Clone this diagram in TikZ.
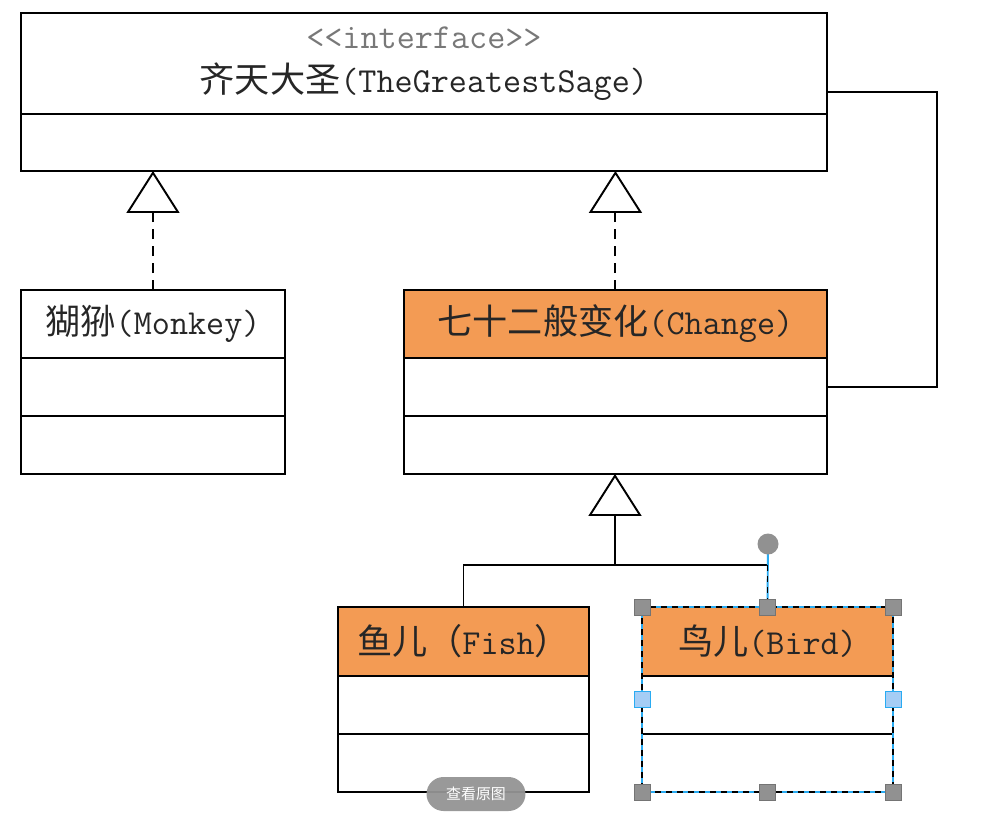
\documentclass[tikz,border=0pt]{standalone}
\usepackage{fontspec}
\newfontfamily\zhfont{Noto Sans CJK SC}
\usetikzlibrary{arrows.meta, positioning}
\definecolor{changeorange}{RGB}{243, 155, 84}
\definecolor{stereogray}{RGB}{120, 120, 120}
\definecolor{selectblue}{RGB}{41, 171, 242}
\definecolor{gripgray}{RGB}{145, 145, 145}
\definecolor{gripblue}{RGB}{165, 205, 245}
\newcommand{\umltext}{\fontsize{20pt}{25pt}\selectfont\ttfamily}

\begin{document}
\begin{tikzpicture}[x=0.02cm, y=-0.02cm, >=Triangle,
	umlhead/.style={draw, line width=1.1pt, inner sep=0pt, outer sep=0pt, minimum height=1.36cm, font=\umltext, text=black!85},
	umlpart/.style={draw, line width=1.1pt, inner sep=0pt, outer sep=0pt, minimum height=1.16cm},
	realize/.style={line width=1.1pt, dash pattern=on 0.2cm off 0.14cm, -{Triangle[length=0.84cm, width=1.06cm, fill=white]}},
	inherit/.style={line width=1.1pt, -{Triangle[length=0.84cm, width=1.06cm, fill=white]}},
	grip/.style={draw=gripgray!80!black, fill=gripgray, line width=0.4pt, inner sep=0pt, minimum size=0.32cm},
	gripside/.style={grip, draw=selectblue, fill=gripblue}]
	\useasboundingbox (0,0) rectangle (991,829);

	% interface
	\node[umlhead, minimum width=16.12cm, minimum height=2.02cm, anchor=north west, align=center] (sage) at (21,13)
		{\textcolor{stereogray}{<{}<interface>{}>}\\{\zhfont 齐天大圣}(TheGreatestSage)};
	\node[umlpart, minimum width=16.12cm, minimum height=1.14cm, below=0pt of sage] (sageops) {};

	% classes
	\node[umlhead, minimum width=5.28cm, anchor=north west] (monkey) at (21,290) {{\zhfont 猢狲}(Monkey)};
	\node[umlpart, minimum width=5.28cm, below=0pt of monkey] (monkeyattr) {};
	\node[umlpart, minimum width=5.28cm, below=0pt of monkeyattr] (monkeyops) {};

	\node[umlhead, fill=changeorange, minimum width=8.46cm, anchor=north west] (change) at (404,290) {{\zhfont 七十二般变化}(Change)};
	\node[umlpart, minimum width=8.46cm, below=0pt of change] (changeattr) {};
	\node[umlpart, minimum width=8.46cm, below=0pt of changeattr] (changeops) {};

	\node[umlhead, fill=changeorange, minimum width=5.02cm, minimum height=1.38cm, anchor=north west] (fish) at (338,607) {{\zhfont 鱼儿（}Fish{\zhfont ）}};
	\node[umlpart, minimum width=5.02cm, below=0pt of fish] (fishattr) {};
	\node[umlpart, minimum width=5.02cm, below=0pt of fishattr] (fishops) {};

	\node[umlhead, fill=changeorange, minimum width=5.02cm, minimum height=1.38cm, anchor=north west] (bird) at (642,607) {{\zhfont 鸟儿}(Bird)};
	\node[umlpart, minimum width=5.02cm, below=0pt of bird] (birdattr) {};
	\node[umlpart, minimum width=5.02cm, below=0pt of birdattr] (birdops) {};

	% realizations
	\draw[realize] (monkey.north) -- (monkey.north |- sageops.south);
	\draw[realize] (change.north) -- (change.north |- sageops.south);

	% link from the interface to Change
	\coordinate (bend) at (937,92);
	\draw[line width=1.1pt] (bend -| sage.east) -- (bend) |- (changeattr.east);

	% generalization
	\coordinate (split) at (615,565);
	\coordinate (rotate) at (768,544);
	\draw[inherit] (split) -- (split |- changeops.south);
	\draw[line width=1.1pt] (fish.north) |- (split);
	\draw[line width=1.1pt] (split) -- (split -| bird.north);
	\draw[selectblue, line width=1.1pt] (rotate) -- (bird.north);
	\draw[line width=1.1pt, dash pattern=on 0.12cm off 0.1cm] (split -| bird.north) -- (bird.north);

	% selected Bird
	\draw[selectblue, line width=1.1pt] (bird.north west) rectangle (birdops.south east);
	\draw[line width=1.1pt, dash pattern=on 0.12cm off 0.1cm] (bird.north west) rectangle (birdops.south east);
	\node[circle, fill=gripgray, inner sep=0pt, minimum size=0.42cm] (rotgrip) at (rotate) {};
	\foreach \p in {bird.north west, bird.north, bird.north east, birdops.south west, birdops.south, birdops.south east}
		\node[grip] at (\p) {};
	\node[gripside] (gripl) at (642,699) {};
	\node[gripside] (gripr) at (893,699) {};

	% viewer button
	\node[fill=black!42, fill opacity=0.95, text opacity=1, text=white, rounded corners=0.34cm, inner sep=0pt,
		minimum width=1.98cm, minimum height=0.68cm, font=\zhfont\fontsize{8.5pt}{10pt}\selectfont] (viewbtn) at (476,794) {查看原图};

\end{tikzpicture}
\end{document}
